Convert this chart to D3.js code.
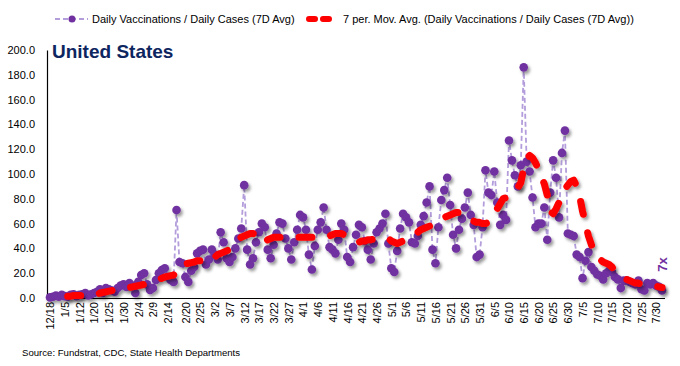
<!DOCTYPE html>
<html>
<head>
<meta charset="utf-8">
<script src="https://cdn.jsdelivr.net/npm/d3@7"></script>
<style>
  body { margin: 0; background: #fff; }
  text { font-family: "Liberation Sans", Arial, sans-serif; }
</style>
</head>
<body>
<div id="chart"></div>
<script>
// categories: a few sparse dates first, then daily from 1/20 to 8/1
const earlyDates = ["12/18","12/21","12/23","12/28","12/30","1/5","1/6","1/7","1/8","1/11",
  "1/12","1/13","1/14","1/15","1/19"];
const dailyDates = d3.timeDay.range(new Date(2021, 0, 20), new Date(2021, 7, 2)).map(d3.timeFormat("%-m/%-d"));
const categories = earlyDates.concat(dailyDates);

const tickLabels = ["12/18","1/5","1/12","1/20","1/25","1/30","2/4","2/9","2/14","2/20","2/25",
  "3/2","3/7","3/12","3/17","3/22","3/27","4/1","4/6","4/11","4/16","4/21","4/26","5/1","5/6",
  "5/11","5/16","5/21","5/26","5/31","6/5","6/10","6/15","6/20","6/25","6/30","7/5","7/10",
  "7/15","7/20","7/25","7/30"];

const yTicks = [0, 20, 40, 60, 80, 100, 120, 140, 160, 180, 200];

// Daily Vaccinations / Daily Cases (7D Avg)
const ratio = [
  0.5, 1, 2, 1, 2.5, 1.5, 1, 2.5, 3, 1.5,
  2.5, 3, 4, 2, 3, 4, 5, 7, 4, 8,
  7, 6, 5, 8, 10, 11, 9, 12, 10, 4,
  13, 18.5, 20, 11, 6.5, 8, 14.5, 20, 22.6, 24,
  17, 14.5, 13, 71, 29, 28, 17, 13, 22, 25,
  36, 38, 39, 27, 31, 39, 35, 31, 53, 45,
  32, 29, 33, 40, 48, 56, 91, 39, 27, 32,
  45, 53, 60, 57, 39, 32, 43, 52, 61, 60,
  48, 40, 31, 45, 55, 67, 65, 55, 35, 23,
  42, 55, 61, 73, 55, 41, 39, 36, 47, 60,
  55, 33, 29, 41, 51, 59, 57, 46, 39, 31,
  44, 53, 56, 60, 68, 44, 24, 21, 38, 56,
  68, 65, 61, 45, 44, 50, 59, 66, 77, 90,
  39, 28, 57, 79, 87, 97, 75, 51, 40, 55,
  64, 73, 85, 67, 59, 33, 35, 57, 103, 85,
  83, 102, 77, 59, 67, 63, 127, 111, 99, 90,
  107, 186, 110, 102, 81, 57, 60, 60, 73, 47,
  85, 111, 97, 65, 117, 135, 52, 51, 50, 35,
  33, 16, 30, 37, 25, 22, 19, 18, 15, 20,
  22, 21, 17, 15, 8, 14, 14, 13, 12, 11,
  14, 7, 6, 12, 11, 12, 10, 9, 6
];

// 7 per. moving average (none for the first 6 points)
const movAvg = [
  null, null, null, null, null, null,
  1.5, 1.5, 2, 2, 2, 2, 2, 2, 2.5,
  2.5, 3, 4, 4.5, 5, 5.5, 6, 6.5, 7, 7.5, 7.5,
  8, 8.5, 9, 9.5, 10, 10.5, 11, 11.5, 12, 13,
  14, 15, 16, 17, 17.5, 18, 18.5, 22, 26,
  27, 27.5, 28, 28.5, 29, 30, 30, 29,
  28, 29, 31, 33, 35, 36, 37, 38,
  39, 42, 45, 47, 49, 50, 51, 52,
  52, 51, 48, 45, 45, 47, 48, 49,
  49, 49, 49, 49, 49, 49, 49, 49, 49, 49, 49,
  49, 49, 49, 49, 49, 49, 49,
  50, 51, 52,
  52, 52, 51, 49, 47, 46, 45, 45, 46, 46,
  47, 47, 47.5, 48, 48, 48.5, 49, 48, 46, 45,
  44, 45, 46, 47, 48, 49, 51, 53, 55,
  56, 57, 58, 59, 60, 62, 64,
  65, 66, 67, 68, 69, 69,
  69, 67, 65, 63, 62, 61, 61, 60,
  60, 61, 64, 68, 72, 76, 80, 81, 82, 83, 85, 89,
  93, 104, 112, 115, 113, 109, 104, 98,
  92, 83, 70, 68, 72, 77, 84, 88, 91, 94, 95, 90, 82, 70, 60, 50, 43, 37, 33,
  31, 29, 28, 27, 25, 22, 20, 18, 16, 15, 14, 13, 12, 12, 11, 11, 10.5, 10, 10, 9.5, 9, 8.5
];

const width = 680, height = 366;
const purple = "#7030A0", lavender = "#B39DDB", red = "#FF0000";

const svg = d3.select("#chart").append("svg")
  .attr("width", width)
  .attr("height", height);

const defs = svg.append("defs");
const shadow = defs.append("filter").attr("id", "shadow")
  .attr("x", "-50%").attr("y", "-50%").attr("width", "200%").attr("height", "200%");
shadow.append("feDropShadow")
  .attr("dx", 2).attr("dy", 2.5).attr("stdDeviation", 1.4)
  .attr("flood-color", "#000").attr("flood-opacity", 0.4);

const x = d3.scalePoint().domain(categories).range([50, 662]);
const y = d3.scaleLinear().domain([0, 200]).range([298, 50]);

// y axis
const yAxis = svg.append("g")
  .attr("transform", "translate(47,0)")
  .call(d3.axisLeft(y).tickValues(yTicks).tickFormat(d3.format(".1f")).tickSize(0).tickPadding(12));
yAxis.select(".domain").attr("stroke", "#000").attr("stroke-width", 1.2);
yAxis.selectAll("text").attr("fill", "#000").style("font-size", "11px")
  .style("font-family", "'Liberation Sans', Arial, sans-serif");

// x axis
const xAxis = svg.append("g")
  .attr("transform", `translate(0,${y(0)})`)
  .call(d3.axisBottom(x).tickValues(tickLabels).tickSize(0).tickPadding(4));
xAxis.select(".domain").attr("d", `M47,0.5H665`).attr("stroke", "#000").attr("stroke-width", 1.2);
xAxis.selectAll("text")
  .attr("fill", "#000")
  .style("font-size", "11px")
  .style("font-family", "'Liberation Sans', Arial, sans-serif")
  .style("text-anchor", "end")
  .attr("dx", "-4")
  .attr("dy", "0.35em")
  .attr("y", 0)
  .attr("transform", "rotate(-90)");

// title
svg.append("text")
  .attr("x", 52).attr("y", 58)
  .attr("fill", "#0E2660")
  .style("font-size", "19px")
  .style("font-weight", "bold")
  .text("United States");

const pts = ratio.map((v, i) => ({ c: categories[i], v }));

// daily ratio: dashed lavender connector + purple dots
const line = d3.line().x(d => x(d.c)).y(d => y(d.v));
svg.append("path")
  .datum(pts)
  .attr("d", line)
  .attr("fill", "none")
  .attr("stroke", lavender)
  .attr("stroke-width", 1.8)
  .attr("stroke-dasharray", "5,3");

svg.append("g")
  .attr("filter", "url(#shadow)")
  .selectAll("circle")
  .data(pts)
  .join("circle")
  .attr("cx", d => x(d.c))
  .attr("cy", d => y(d.v))
  .attr("r", 4.3)
  .attr("fill", purple);

// moving average
const maPts = movAvg.map((v, i) => ({ c: categories[i], v })).filter(d => d.v !== null);
svg.append("path")
  .datum(maPts)
  .attr("d", d3.line().x(d => x(d.c)).y(d => y(d.v)))
  .attr("fill", "none")
  .attr("stroke", red)
  .attr("stroke-width", 7)
  .attr("stroke-linecap", "round")
  .attr("stroke-linejoin", "round")
  .attr("stroke-dasharray", "13,19")
  .attr("filter", "url(#shadow)");

// "7x" end label
const last = pts[pts.length - 1];
svg.append("text")
  .attr("transform", `translate(${x(last.c) + 5},${y(last.v) - 26}) rotate(-90)`)
  .attr("fill", purple)
  .style("font-size", "13px")
  .style("font-weight", "bold")
  .style("text-anchor", "middle")
  .text("7x");

// legend
const legend = svg.append("g").attr("transform", "translate(0,19)");
legend.append("line")
  .attr("x1", 55).attr("x2", 88).attr("y1", 0).attr("y2", 0)
  .attr("stroke", lavender).attr("stroke-width", 1.8).attr("stroke-dasharray", "5,3");
legend.append("circle").attr("cx", 72).attr("cy", 0).attr("r", 3.5).attr("fill", purple);
legend.append("text")
  .attr("x", 92).attr("y", 4)
  .style("font-size", "11px")
  .attr("fill", "#000")
  .text("Daily Vaccinations / Daily Cases (7D Avg)");
legend.append("line")
  .attr("x1", 309).attr("x2", 331).attr("y1", 0).attr("y2", 0)
  .attr("stroke", red).attr("stroke-width", 6).attr("stroke-linecap", "round")
  .attr("stroke-dasharray", "6,8");
legend.append("text")
  .attr("x", 343).attr("y", 4)
  .style("font-size", "11px")
  .attr("fill", "#000")
  .text("7 per. Mov. Avg. (Daily Vaccinations / Daily Cases (7D Avg))");

// source
svg.append("text")
  .attr("x", 22).attr("y", 356)
  .style("font-size", "9.6px")
  .attr("fill", "#000")
  .text("Source: Fundstrat, CDC, State Health Departments");
</script>
</body>
</html>
